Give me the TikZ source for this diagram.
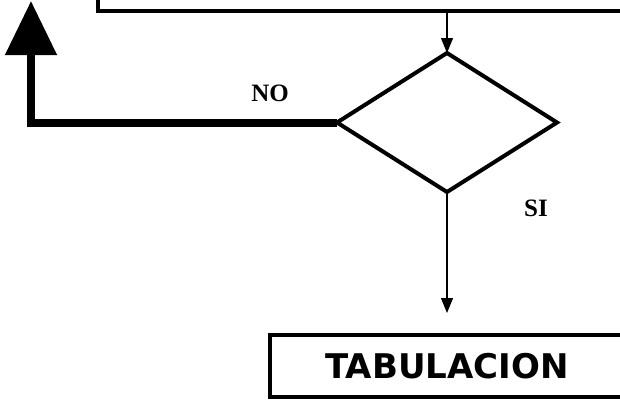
\documentclass[tikz,border=0pt]{standalone}
\usepackage{fontspec}
\newfontfamily\boxfont{DejaVu Sans}
\newfontfamily\labelfont{Liberation Serif}
\usetikzlibrary{shapes.geometric,arrows.meta,calc}
\tikzset{
  boxnode/.style={draw, rectangle, line width=3.5pt, outer sep=0pt, inner sep=0pt},
  dianode/.style={draw, diamond, line width=4pt, outer sep=0pt, inner sep=0pt, minimum width=220pt, minimum height=139pt},
  thinarrow/.style={line width=1.2pt, -{Triangle[length=15pt,width=12pt]}},
  bigarrow/.style={line width=8pt, line join=miter, -{Triangle[length=54pt,width=50pt]}},
  lbl/.style={font=\labelfont\bfseries\fontsize{25}{25}\selectfont, inner sep=0pt}
}
\begin{document}
\begin{tikzpicture}[x=1pt,y=-1pt]
\useasboundingbox (0,0) rectangle (620,399);
\node[boxnode, anchor=south west, minimum width=540pt, minimum height=40pt] (top) at (98,11) {};
\node[dianode] (d) at (447,122.5) {};
\node[boxnode, minimum width=354pt, minimum height=62pt, text depth=0pt,
      font=\boxfont\bfseries\fontsize{34}{34}\selectfont] (bot) at (447,366) {TABULACION};
\coordinate (ret) at (31,1);
\node[lbl] (no) at (270,93) {NO};
\node[lbl] (si) at (536,208) {SI};
\draw[thinarrow] (d.north |- top.south) -- (d.north);
\draw[thinarrow] (d.south) -- ($(bot.north)+(0,-22)$);
\draw[bigarrow] (d.west) -| (ret);
\end{tikzpicture}
\end{document}
